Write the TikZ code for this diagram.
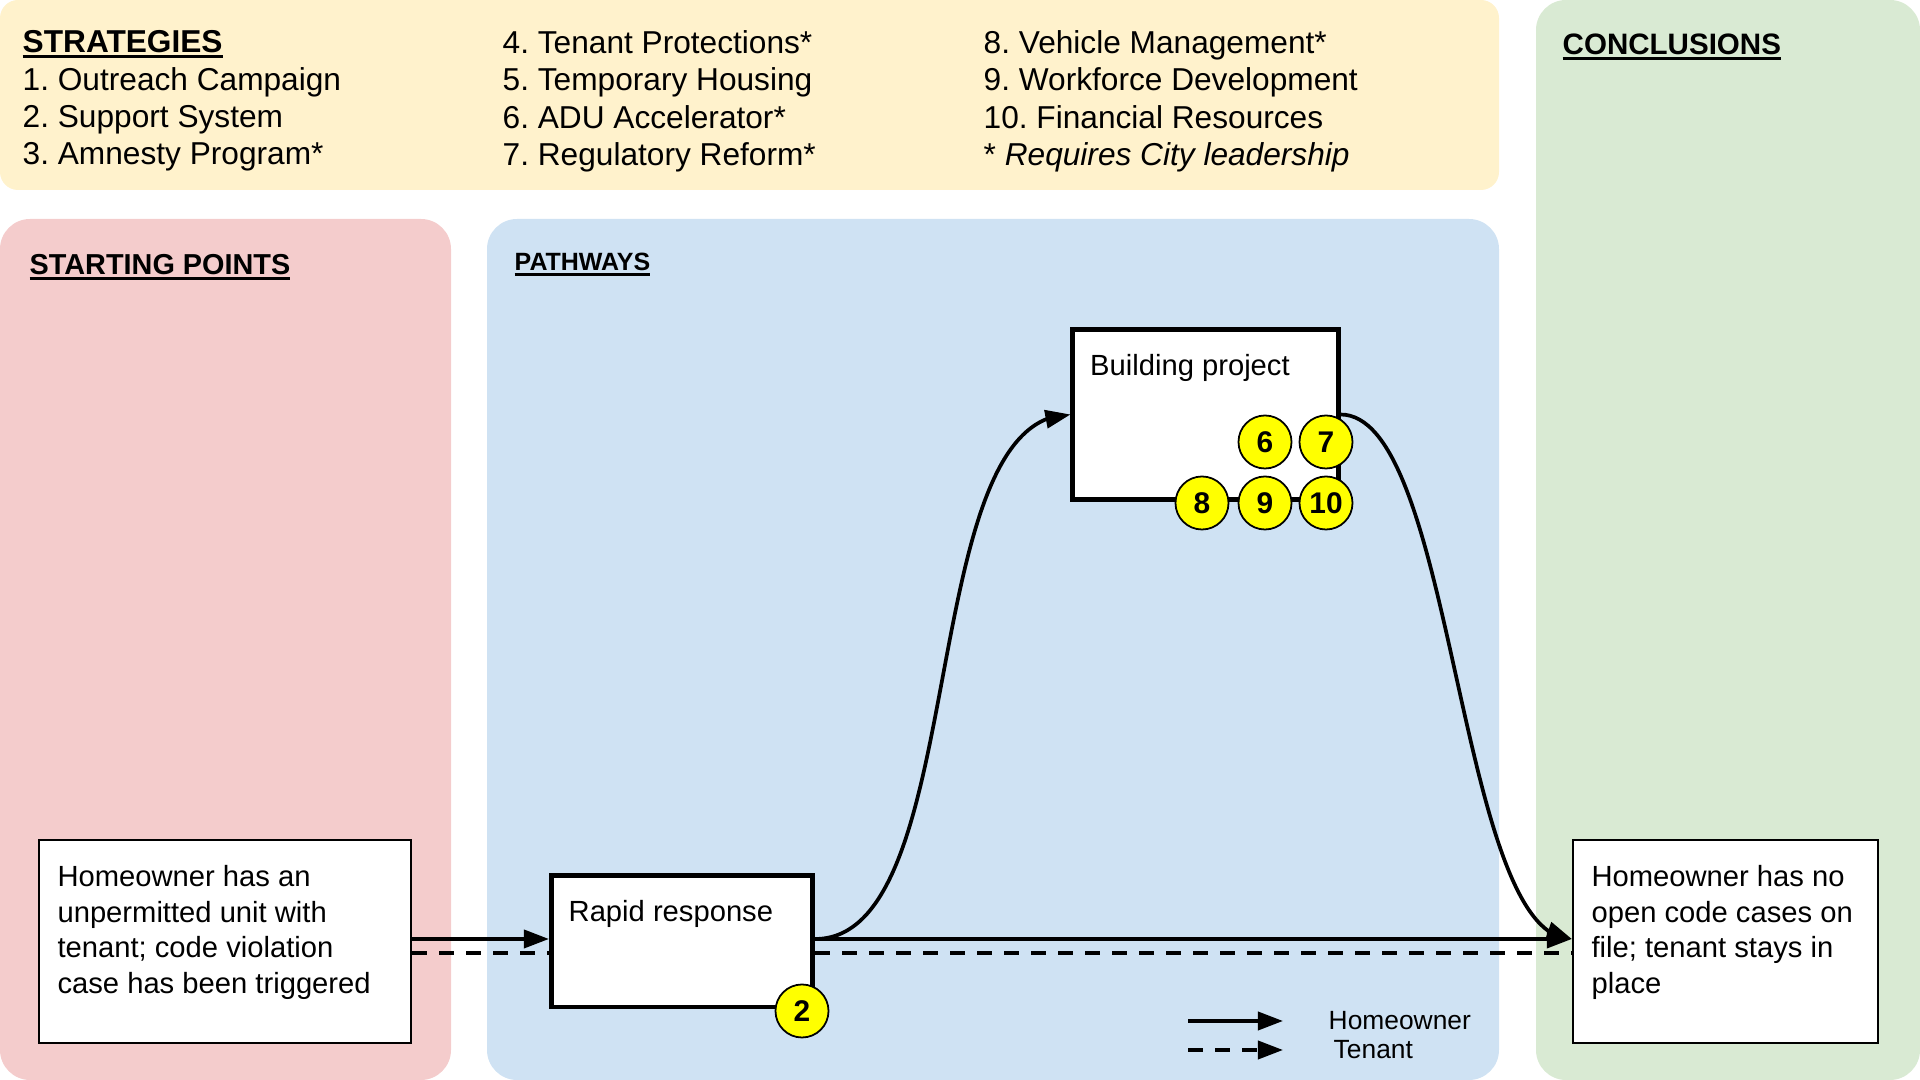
\documentclass[tikz,border=0pt]{standalone}
\usepackage{fontspec}
\setmainfont{Liberation Sans}
\usetikzlibrary{arrows.meta, bending}

\definecolor{stratyellow}{HTML}{FFF2CC}
\definecolor{startpink}{HTML}{F4CCCC}
\definecolor{pathblue}{HTML}{CFE2F3}
\definecolor{conclgreen}{HTML}{D9EAD3}
\definecolor{badgeyellow}{HTML}{FFFF00}

\newcommand{\ulhead}[1]{\setbox0\hbox{#1}\rlap{\rule[-0.05cm]{\wd0}{0.027cm}}\box0}

\begin{document}
\frenchspacing
\begin{tikzpicture}[x=0.01cm, y=-0.01cm]
\tikzstyle{panel}=[rounded corners=0.3cm]
\tikzstyle{pathbox}=[rectangle, draw=black, fill=white, line width=1.4pt, inner sep=0pt]
\tikzstyle{endbox}=[rectangle, draw=black, fill=white, line width=0.6pt, inner sep=0pt]
\tikzstyle{boxtext}=[anchor=north west, inner xsep=0.19cm, inner ysep=0.26cm, align=left,
        font=\fontsize{8.3}{10.1}\selectfont]
\tikzstyle{strat}=[anchor=north west, inner sep=0pt, align=left, font=\fontsize{9}{10.6}\selectfont]
\tikzstyle{head}=[anchor=base west, inner sep=0pt]
\tikzstyle{badge}=[circle, draw=black, fill=badgeyellow, line width=0.5pt, minimum size=0.53cm,
        inner sep=0pt, font=\fontsize{8.5}{10}\selectfont\bfseries]
\tikzstyle{homeowner}=[-{Triangle[length=0.25cm, width=0.18cm]}, line width=1.05pt]
\tikzstyle{tenant}=[line width=1.05pt, dash pattern=on 0.15cm off 0.12cm]
\tikzstyle{legend}=[anchor=west, inner sep=0pt, font=\fontsize{7.5}{9}\selectfont]

\def \hoff {0.025cm}
\def \toff {-0.115cm}

\useasboundingbox (0,0) rectangle (1920,1080);

% panels
\fill[stratyellow, rounded corners=0.18cm] (0,0) rectangle (1499,190);
\fill[startpink, panel] (0,219) rectangle (451,1080);
\fill[pathblue, panel] (487,219) rectangle (1499,1080);
\fill[conclgreen, panel] (1536,0) rectangle (1920,1080);

% strategies
    \node (stratA) [strat] at (22,30){
            \ulhead{\textbf{STRATEGIES}}\\
            1. Outreach Campaign\\
            2. Support System\\
            3. Amnesty Program*
    };
    \node (stratB) [strat] at (502,30){
            4. Tenant Protections*\\
            5. Temporary Housing\\
            6. ADU Accelerator*\\
            7. Regulatory Reform*
    };
    \node (stratC) [strat] at (983,30){
            8. Vehicle Management*\\
            9. Workforce Development\\
            10. Financial Resources\\
            * \textit{Requires City leadership}
    };

    \node (starthead) [head, font=\fontsize{8.2}{10}\selectfont\bfseries] at (29,275) {\ulhead{STARTING POINTS}};
    \node (pathhead) [head, font=\fontsize{7.1}{9}\selectfont\bfseries] at (514,271) {\ulhead{PATHWAYS}};
    \node (conclhead) [head, font=\fontsize{8.4}{10}\selectfont\bfseries] at (1562,55) {\ulhead{CONCLUSIONS}};

% boxes
    \node (start) [endbox, minimum width=3.72cm, minimum height=2.03cm] at (225,941.5) {};
    \node (rapid) [pathbox, minimum width=2.61cm, minimum height=1.31cm] at (682,941.5) {};
    \node (build) [pathbox, minimum width=2.65cm, minimum height=1.69cm] at (1205.5,414.5) {};
    \node (concl) [endbox, minimum width=3.05cm, minimum height=2.03cm] at (1725.5,941.5) {};

    \node (starttext) [boxtext] at (start.north west){
            Homeowner has an\\
            unpermitted unit with\\
            tenant; code violation\\
            case has been triggered
    };
    \node (rapidtext) [boxtext] at (rapid.north west) {Rapid response};
    \node (buildtext) [boxtext] at (build.north west) {Building project};
    \node (concltext) [boxtext] at (concl.north west){
            Homeowner has no\\
            open code cases on\\
            file; tenant stays in\\
            place
    };

% pathways
\draw[homeowner] ([yshift=\hoff]start.east) -- ([yshift=\hoff]rapid.west);
\draw[tenant] ([yshift=\toff]start.east) -- ([yshift=\toff]rapid.west);
\draw[homeowner] ([yshift=\hoff]rapid.east) .. controls +(157,0) and +(-157,0) .. (build.west);
\draw[homeowner] (build.east) .. controls +(115,0) and +(-115,0) .. ([yshift=\hoff]concl.west);
\draw[homeowner] ([yshift=\hoff]rapid.east) -- ([yshift=\hoff]concl.west);
\draw[tenant] ([yshift=\toff]rapid.east) -- ([yshift=\toff]concl.west);

% strategy badges
    \node (s2) [badge] at (802,1011) {2};
    \node (s6) [badge] at (1265,442) {6};
    \node (s7) [badge] at (1326,442) {7};
    \node (s8) [badge] at (1202,503) {8};
    \node (s9) [badge] at (1265,503) {9};
    \node (s10) [badge] at (1326,503) {10};

% legend
\coordinate (hoA) at (1188,1021);
\coordinate (hoB) at (1283,1021);
\coordinate (teA) at (1188,1050);
\coordinate (teB) at (1283,1050);
\draw[homeowner] (hoA) -- (hoB);
\draw[tenant, -{Triangle[length=0.25cm, width=0.18cm]}] (teA) -- (teB);
    \node (holabel) [legend] at (1328,1021) {Homeowner};
    \node (telabel) [legend] at (1333,1050) {Tenant};

\end{tikzpicture}
\end{document}
